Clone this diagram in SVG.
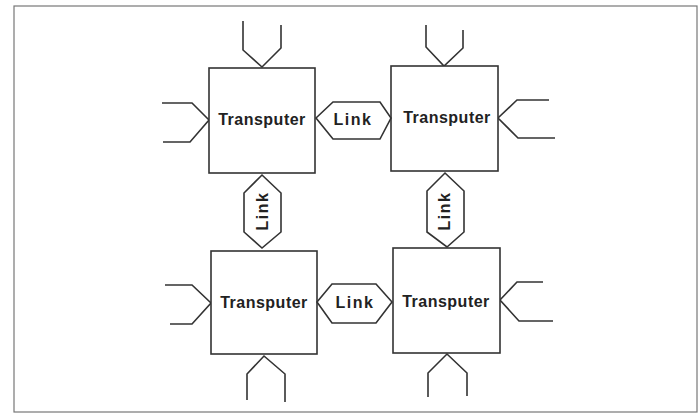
<svg xmlns="http://www.w3.org/2000/svg" width="700" height="414" viewBox="0 0 700 414">
<style>
.ln{fill:none;stroke:#333;stroke-width:1.6;stroke-linejoin:miter}
.box{fill:#fff;stroke:#333;stroke-width:1.6}
.t{font-family:"Liberation Sans",Arial,sans-serif;font-size:16px;font-weight:bold;fill:#222;text-anchor:middle;letter-spacing:0.5px}
.lk{font-family:"Liberation Sans",Arial,sans-serif;font-size:16px;font-weight:bold;fill:#222;text-anchor:middle;letter-spacing:1.5px}
</style>
<rect width="700" height="414" fill="#fff"/>
<rect x="14" y="6" width="683" height="406" fill="none" stroke="#777" stroke-width="1.2"/>
<g id="connectors">
<path class="ln" d="M243,21 V50 L262,67 L281,48 V25"/>
<path class="ln" d="M162,103 H192 L209,120 L190,142 H163"/>
<path class="ln" d="M426,25 V47 L444,66 L463,48 V30"/>
<path class="ln" d="M549,100 H517 L498,118 L518,138 H555"/>
<path class="ln" d="M165,285 H192 L211,303 L192,324 H170"/>
<path class="ln" d="M247,400 V374 L264,356 L285,374 V402"/>
<path class="ln" d="M543,282 H517 L500,300 L519,321 H553"/>
<path class="ln" d="M428,397 V373 L447,354 L467,373 V396"/>
</g>
<g id="transputer-tl">
<rect class="box" x="209" y="68" width="106" height="105"/>
<text class="t" x="262" y="125">Transputer</text>
</g>
<g id="transputer-tr">
<rect class="box" x="391" y="66" width="107" height="105"/>
<text class="t" x="447" y="123">Transputer</text>
</g>
<g id="transputer-bl">
<rect class="box" x="211" y="251" width="106" height="103"/>
<text class="t" x="264" y="308">Transputer</text>
</g>
<g id="transputer-br">
<rect class="box" x="393" y="248" width="107" height="105"/>
<text class="t" x="446" y="307">Transputer</text>
</g>
<g id="link-top">
<path class="ln" d="M316,118 L333,102 H380 L391,118 L380,139 H333 Z"/>
<text class="lk" x="353" y="125">Link</text>
</g>
<g id="link-bottom">
<path class="ln" d="M317,302 L332,284 H376 L392,302 L376,323 H332 Z"/>
<text class="lk" x="355" y="308">Link</text>
</g>
<g id="link-left">
<path class="ln" d="M262,175 L281,193 V232 L262,248 L244,232 V193 Z"/>
<text class="lk" transform="translate(268,211) rotate(-90)" x="0" y="0">Link</text>
</g>
<g id="link-right">
<path class="ln" d="M445,173 L464,191 V232 L447,247 L427,232 V191 Z"/>
<text class="lk" transform="translate(450,211) rotate(-90)" x="0" y="0">Link</text>
</g>
</svg>
